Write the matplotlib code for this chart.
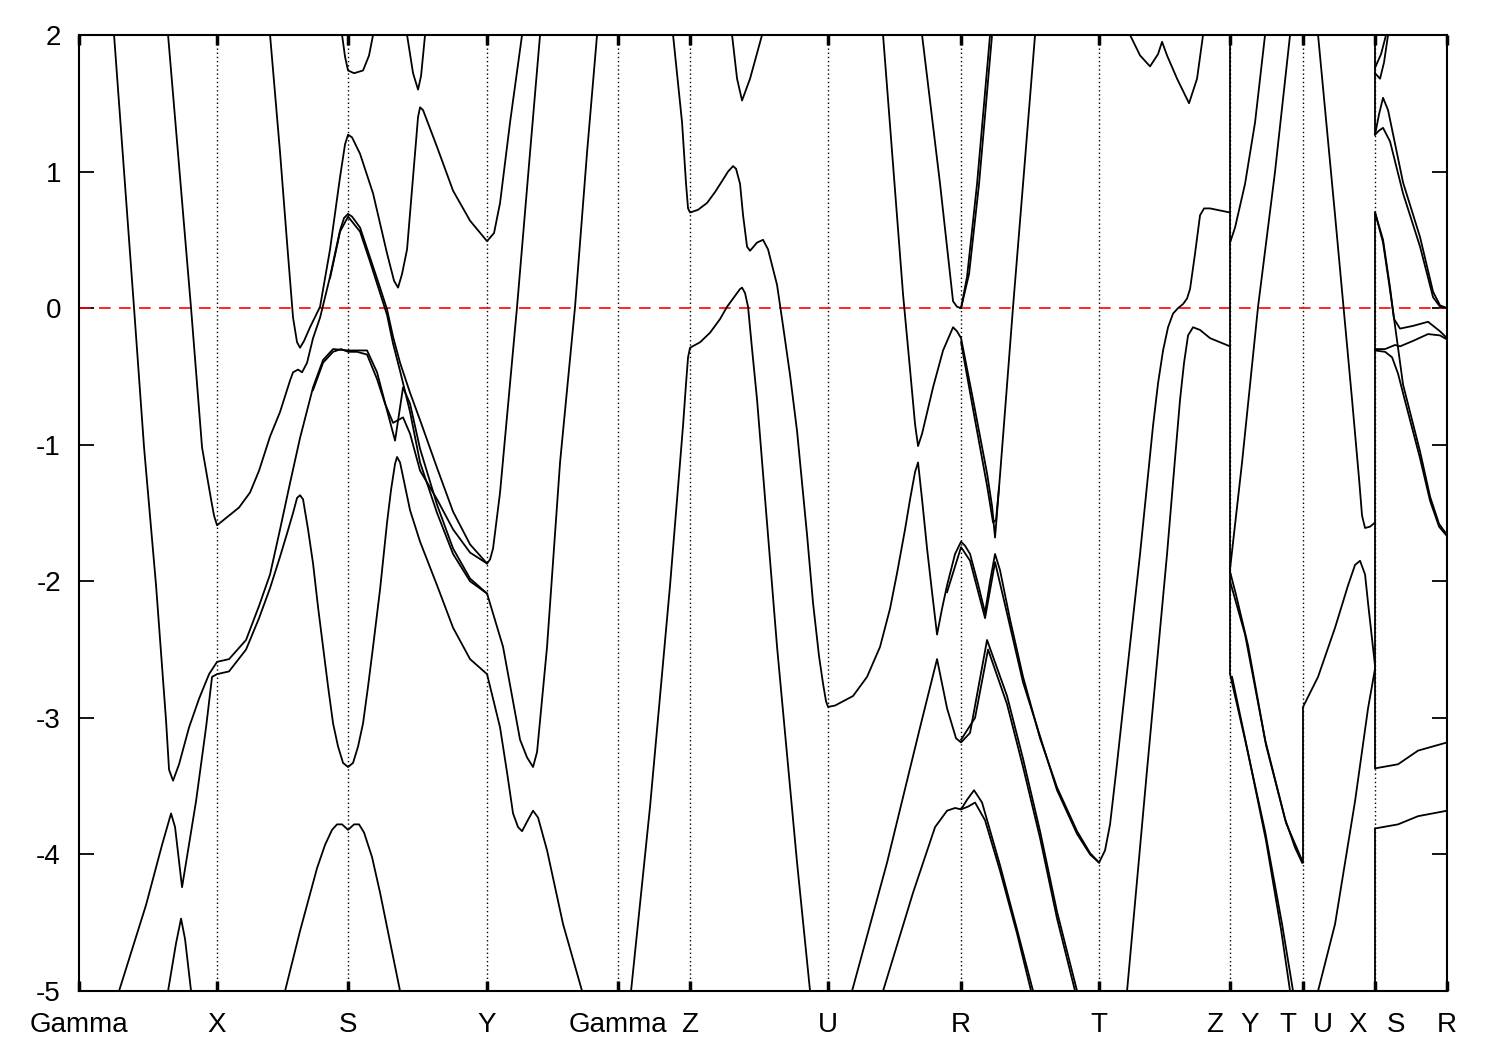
import matplotlib
matplotlib.use('Agg')
import matplotlib.pyplot as plt
from matplotlib.transforms import blended_transform_factory

plt.rcParams['font.family'] = ['Liberation Sans', 'DejaVu Sans']

# high-symmetry points along the k-path
tick_k = [0.0, 1.38, 2.69, 4.08, 5.39, 6.11, 7.49, 8.82, 10.20, 11.51, 12.24, 12.96, 13.68]
label_text = ['Gamma', 'X', 'S', 'Y', 'Gamma', 'Z', 'U', 'R', 'T', 'Z', 'Y', 'T', 'U', 'X', 'S', 'R']
label_k = [0.0, 1.38, 2.69, 4.08, 5.39, 6.11, 7.49, 8.82, 10.20, 11.36, 11.71, 12.09, 12.44, 12.79, 13.17, 13.68]

# band pieces: k distance and energy (eV)
band01_k = [0.35, 0.55, 0.65, 0.77, 0.87, 0.90, 0.94, 1.00, 1.10, 1.20, 1.30, 1.38,
            1.50, 1.67, 1.80, 1.91, 2.01, 2.11, 2.21, 2.34, 2.44, 2.54, 2.69,
            2.88, 2.98, 3.08, 3.16, 3.24, 3.31, 3.41, 3.58, 3.74, 3.91, 4.08,
            4.24, 4.41, 4.48, 4.54, 4.58, 4.61, 4.68, 4.81, 4.96, 5.08, 5.18]
band01_e = [2.0, 0.0, -1.02, -2.03, -3.02, -3.38, -3.46, -3.34, -3.07, -2.86, -2.68, -2.59,
            -2.57, -2.43, -2.18, -1.95, -1.62, -1.28, -0.95, -0.58, -0.38, -0.30, -0.31,
            -0.31, -0.47, -0.75, -0.97, -0.58, -0.70, -1.03, -1.44, -1.76, -1.98, -2.09,
            -2.48, -3.16, -3.29, -3.36, -3.25, -3.02, -2.48, -1.13, 0.01, 1.14, 2.0]

band02_k = [2.34, 2.44, 2.54, 2.62, 2.69, 2.78, 2.88, 2.98, 3.06, 3.14, 3.24, 3.31, 3.41, 3.58, 3.74, 3.91, 4.08]
band02_e = [-0.60, -0.40, -0.32, -0.30, -0.32, -0.32, -0.34, -0.52, -0.70, -0.84, -0.80, -0.92, -1.19, -1.40, -1.62, -1.79, -1.87]

band03_k = [0.89, 1.12, 1.23, 1.32, 1.35, 1.38,
            1.60, 1.71, 1.80, 1.91, 2.01, 2.11, 2.14, 2.19, 2.23, 2.28, 2.34, 2.41, 2.51, 2.61, 2.65, 2.69, 2.73,
            2.81, 2.91, 3.01, 3.08, 3.14, 3.21, 3.31, 3.41, 3.58, 3.74, 3.91, 4.08,
            4.11, 4.14, 4.21, 4.38, 4.51, 4.61]
band03_e = [2.0, 0.0, -1.02, -1.40, -1.52, -1.59,
            -1.46, -1.35, -1.19, -0.94, -0.76, -0.53, -0.47, -0.45, -0.47, -0.40, -0.22, -0.07, 0.23, 0.57, 0.66, 0.69, 0.67,
            0.59, 0.37, 0.15, -0.01, -0.21, -0.40, -0.62, -0.82, -1.17, -1.49, -1.73, -1.87,
            -1.84, -1.76, -1.35, 0.01, 1.14, 2.0]

band04_k = [1.91, 2.01, 2.08, 2.14, 2.18, 2.21, 2.25, 2.31, 2.41, 2.51, 2.61, 2.66, 2.69, 2.73, 2.81, 2.94,
            3.08, 3.15, 3.19, 3.23, 3.28, 3.34, 3.39, 3.41, 3.44, 3.58, 3.74, 3.91, 4.08, 4.15, 4.21, 4.31, 4.43]
band04_e = [2.0, 1.14, 0.48, -0.07, -0.25, -0.29, -0.24, -0.14, 0.01, 0.43, 0.96, 1.20, 1.27, 1.25, 1.13, 0.84,
            0.40, 0.20, 0.15, 0.25, 0.43, 0.96, 1.40, 1.47, 1.45, 1.18, 0.86, 0.64, 0.49, 0.55, 0.77, 1.36, 2.0]

band05_k = [0.40, 0.67, 0.83, 0.92, 0.96, 1.03, 1.17, 1.27, 1.33, 1.38,
            1.50, 1.67, 1.80, 1.91, 2.01, 2.08, 2.14, 2.18, 2.21, 2.24,
            2.29, 2.34, 2.39, 2.44, 2.49, 2.54, 2.59, 2.64, 2.69, 2.74,
            2.79, 2.84, 2.89, 2.94, 3.01, 3.08, 3.12, 3.16, 3.18, 3.21,
            3.25, 3.31, 3.41, 3.58, 3.74, 3.91, 4.08,
            4.21, 4.28, 4.34, 4.39, 4.43, 4.48, 4.54, 4.59, 4.68, 4.84, 5.03]
band05_e = [-5.0, -4.37, -3.93, -3.70, -3.80, -4.24, -3.61, -3.07, -2.70, -2.68,
            -2.66, -2.50, -2.27, -2.05, -1.82, -1.65, -1.50, -1.39, -1.37, -1.40,
            -1.62, -1.87, -2.19, -2.48, -2.77, -3.04, -3.21, -3.33, -3.36, -3.33,
            -3.21, -3.04, -2.77, -2.48, -2.06, -1.57, -1.33, -1.14, -1.09, -1.13,
            -1.27, -1.48, -1.71, -2.03, -2.34, -2.57, -2.68,
            -3.07, -3.40, -3.70, -3.80, -3.83, -3.76, -3.68, -3.73, -3.97, -4.51, -5.0]

band06_k = [2.51, 2.61, 2.69, 2.81, 2.91, 3.01, 3.08, 3.14, 3.21, 3.31, 3.41, 3.58, 3.74, 3.91, 4.08]
band06_e = [0.22, 0.56, 0.67, 0.56, 0.34, 0.11, -0.05, -0.26, -0.46, -0.76, -1.13, -1.50, -1.80, -2.00, -2.09]

band07_k = [2.06, 2.21, 2.38, 2.46, 2.53, 2.58, 2.63, 2.69, 2.75, 2.80, 2.85, 2.93, 3.01, 3.21]
band07_e = [-5.0, -4.56, -4.10, -3.93, -3.82, -3.78, -3.78, -3.82, -3.78, -3.78, -3.84, -4.02, -4.28, -5.0]

band08_k = [0.89, 0.97, 1.02, 1.06, 1.12]
band08_e = [-5.0, -4.65, -4.47, -4.62, -5.0]

band09_k = [2.63, 2.66, 2.69, 2.75, 2.84, 2.90, 2.94]
band09_e = [2.0, 1.84, 1.74, 1.72, 1.74, 1.85, 2.0]

band10_k = [3.28, 3.34, 3.39, 3.42, 3.46]
band10_e = [2.0, 1.72, 1.60, 1.70, 2.0]

band11_k = [5.52, 5.71, 5.91, 6.04, 6.07, 6.09, 6.11, 6.21, 6.31, 6.41, 6.48,
            6.56, 6.61, 6.63, 6.66, 6.69, 6.73, 6.78, 6.98, 7.18, 7.31]
band11_e = [-5.0, -3.65, -2.03, -0.86, -0.55, -0.36, -0.29, -0.25, -0.18, -0.08, 0.01,
            0.09, 0.14, 0.15, 0.11, 0.01, -0.30, -0.67, -2.48, -4.06, -5.0]

band12_k = [5.94, 6.03, 6.07, 6.09, 6.11, 6.19, 6.28, 6.36, 6.43, 6.49,
            6.54, 6.57, 6.61, 6.64, 6.68, 6.71, 6.78, 6.84, 6.89, 6.98,
            7.04, 7.11, 7.18, 7.28, 7.34, 7.40, 7.44, 7.47, 7.49,
            7.56, 7.74, 7.88, 8.01, 8.11, 8.18, 8.26, 8.31, 8.36, 8.39,
            8.43, 8.48, 8.53, 8.58, 8.63, 8.68, 8.76, 8.82, 8.86, 8.91,
            8.99, 9.06, 9.11, 9.16,
            9.21, 9.31, 9.44, 9.61, 9.78, 9.98, 10.11, 10.20,
            10.26, 10.31, 10.37, 10.44, 10.61, 10.74, 10.79, 10.84, 10.89, 10.94,
            10.99, 11.04, 11.08, 11.11, 11.16, 11.21, 11.25, 11.31, 11.51]
band12_e = [2.0, 1.36, 0.91, 0.73, 0.70, 0.72, 0.77, 0.85, 0.93, 1.00,
            1.04, 1.02, 0.91, 0.68, 0.45, 0.42, 0.48, 0.50, 0.43, 0.17,
            -0.13, -0.49, -0.90, -1.66, -2.16, -2.55, -2.75, -2.88, -2.92,
            -2.91, -2.84, -2.70, -2.48, -2.20, -1.94, -1.62, -1.40, -1.20, -1.13,
            -1.40, -1.76, -2.08, -2.39, -2.20, -2.03, -1.80, -1.71, -1.74, -1.80,
            -2.02, -2.23, -2.00, -1.80,
            -1.92, -2.28, -2.70, -3.15, -3.51, -3.83, -3.99, -4.06,
            -3.97, -3.78, -3.40, -2.93, -1.80, -0.86, -0.55, -0.31, -0.14, -0.04,
            0.0, 0.03, 0.07, 0.14, 0.40, 0.68, 0.73, 0.73, 0.70]

band13_k = [8.68, 8.82, 8.91, 9.06, 9.16, 9.31, 9.44, 9.78, 9.98, 10.11, 10.20]
band13_e = [-2.08, -1.75, -1.85, -2.27, -1.86, -2.33, -2.74, -3.53, -3.85, -4.00, -4.06]

band14_k = [8.04, 8.24, 8.31, 8.36, 8.39, 8.43, 8.54, 8.64, 8.74, 8.78,
            8.82, 8.94, 9.08, 9.13, 9.16, 9.21, 9.26, 9.34, 9.44, 9.56]
band14_e = [2.0, 0.10, -0.45, -0.85, -1.01, -0.92, -0.58, -0.31, -0.14, -0.17,
            -0.22, -0.67, -1.21, -1.45, -1.68, -1.22, -0.75, 0.01, 0.91, 2.0]

band15_k = [8.82, 8.94, 9.08, 9.14, 9.17, 9.20]
band15_e = [-0.25, -0.74, -1.30, -1.57, -1.55, -1.31]

band16_k = [8.43, 8.61, 8.74, 8.78, 8.82, 8.88, 8.98, 9.11]
band16_e = [2.0, 0.91, 0.05, 0.01, 0.0, 0.23, 0.91, 2.0]

band17_k = [8.82, 8.90, 9.00, 9.13]
band17_e = [0.0, 0.25, 0.91, 2.0]

band18_k = [7.73, 8.08, 8.41, 8.58, 8.68, 8.77, 8.82, 8.91, 9.08, 9.28, 9.44, 9.61, 9.78, 9.98]
band18_e = [-5.0, -4.06, -3.07, -2.57, -2.93, -3.15, -3.18, -3.11, -2.43, -2.84, -3.30, -3.83, -4.42, -5.0]

band19_k = [8.82, 8.96, 9.09, 9.28, 9.44, 9.61, 9.78, 9.96]
band19_e = [-3.16, -3.00, -2.50, -2.90, -3.36, -3.88, -4.47, -5.0]

band20_k = [8.04, 8.34, 8.56, 8.68, 8.76, 8.82, 8.88, 8.95, 9.03, 9.21, 9.38, 9.54]
band20_e = [-5.0, -4.28, -3.80, -3.68, -3.66, -3.67, -3.60, -3.53, -3.62, -4.08, -4.55, -5.0]

band21_k = [8.82, 8.89, 8.96, 9.06, 9.21, 9.38, 9.52]
band21_e = [-3.67, -3.65, -3.62, -3.75, -4.12, -4.58, -5.0]

band22_k = [6.53, 6.58, 6.63, 6.71, 6.83]
band22_e = [2.0, 1.68, 1.52, 1.68, 2.0]

band23_k = [10.48, 10.68, 10.88, 10.96, 11.01, 11.05, 11.09, 11.14, 11.21, 11.31, 11.51]
band23_e = [-5.0, -3.38, -1.80, -1.10, -0.67, -0.40, -0.20, -0.14, -0.16, -0.22, -0.28]

band24_k = [10.51, 10.61, 10.71, 10.79, 10.83, 10.88, 10.98, 11.10, 11.18, 11.24]
band24_e = [2.0, 1.85, 1.77, 1.86, 1.95, 1.85, 1.68, 1.50, 1.68, 2.0]

band25_k = [11.51, 11.56, 11.66, 11.76, 11.86]
band25_e = [0.48, 0.59, 0.91, 1.36, 2.0]

band26_k = [11.51, 11.63, 11.79, 11.96, 12.11]
band26_e = [-1.91, -1.13, 0.01, 1.0, 2.0]

band28_k = [11.51, 11.66, 11.86, 12.06, 12.16, 12.23]
band28_e = [-2.0, -2.39, -3.16, -3.74, -3.95, -4.06]

band29_k = [11.51, 11.57, 11.69, 11.87, 12.07, 12.24]
band29_e = [-1.93, -2.10, -2.47, -3.20, -3.77, -4.06]

band30_k = [11.51, 11.66, 11.86, 12.03, 12.14]
band30_e = [-2.68, -3.16, -3.83, -4.51, -5.0]

band31_k = [11.53, 11.68, 11.87, 12.02, 12.11]
band31_e = [-2.70, -3.22, -3.90, -4.55, -5.0]

band32_k = [12.24, 12.39, 12.56, 12.69, 12.76, 12.81, 12.86, 12.89, 12.96]
band32_e = [-2.92, -2.70, -2.34, -2.03, -1.88, -1.85, -1.95, -2.16, -2.62]

band33_k = [12.39, 12.56, 12.76, 12.89, 12.96]
band33_e = [-5.0, -4.51, -3.61, -2.93, -2.64]

band34_k = [12.39, 12.56, 12.73, 12.80, 12.83, 12.86, 12.91, 12.96]
band34_e = [2.0, 0.68, -0.67, -1.25, -1.52, -1.61, -1.60, -1.57]

band35_k = [12.96, 13.02, 13.07]
band35_e = [1.76, 1.86, 2.0]

band36_k = [12.96, 13.01, 13.05, 13.09]
band36_e = [1.72, 1.68, 1.80, 2.0]

band37_k = [12.96, 13.00, 13.04, 13.09, 13.24, 13.41, 13.54, 13.61, 13.68]
band37_e = [1.27, 1.42, 1.54, 1.45, 0.92, 0.52, 0.12, 0.02, 0.0]

band38_k = [12.96, 13.00, 13.04, 13.11, 13.24, 13.41, 13.54, 13.61, 13.68]
band38_e = [1.27, 1.30, 1.32, 1.22, 0.84, 0.45, 0.08, 0.01, 0.0]

band39_k = [12.96, 13.04, 13.11, 13.15, 13.21, 13.34, 13.49, 13.61, 13.68]
band39_e = [0.70, 0.50, 0.15, -0.08, -0.15, -0.13, -0.10, -0.17, -0.22]

band40_k = [12.96, 13.06, 13.16, 13.21, 13.34, 13.49, 13.61, 13.68]
band40_e = [-0.30, -0.30, -0.27, -0.28, -0.24, -0.19, -0.20, -0.23]

band41_k = [12.96, 13.04, 13.11, 13.16, 13.24, 13.41, 13.51, 13.60, 13.68]
band41_e = [0.70, 0.48, 0.13, -0.13, -0.56, -1.05, -1.38, -1.58, -1.66]

band42_k = [12.96, 13.06, 13.13, 13.19, 13.26, 13.41, 13.51, 13.60, 13.68]
band42_e = [-0.31, -0.32, -0.36, -0.48, -0.68, -1.10, -1.41, -1.60, -1.67]

band43_k = [12.96, 13.19, 13.39, 13.68]
band43_e = [-3.37, -3.34, -3.24, -3.18]

band44_k = [12.96, 13.19, 13.39, 13.68]
band44_e = [-3.81, -3.78, -3.72, -3.68]

# band jumps drawn at the discontinuous path points
jump_k = [11.51, 12.24, 12.96, 12.96, 12.96]
jump_lo = [-2.68, -4.06, 1.27, -3.37, -5.0]
jump_hi = [2.0, -2.92, 2.0, 0.70, -3.81]

bands = [
    (band01_k, band01_e), (band02_k, band02_e), (band03_k, band03_e), (band04_k, band04_e),
    (band05_k, band05_e), (band06_k, band06_e), (band07_k, band07_e), (band08_k, band08_e),
    (band09_k, band09_e), (band10_k, band10_e), (band11_k, band11_e), (band12_k, band12_e),
    (band13_k, band13_e), (band14_k, band14_e), (band15_k, band15_e), (band16_k, band16_e),
    (band17_k, band17_e), (band18_k, band18_e), (band19_k, band19_e), (band20_k, band20_e),
    (band21_k, band21_e), (band22_k, band22_e), (band23_k, band23_e), (band24_k, band24_e),
    (band25_k, band25_e), (band26_k, band26_e), (band28_k, band28_e), (band29_k, band29_e),
    (band30_k, band30_e), (band31_k, band31_e), (band32_k, band32_e), (band33_k, band33_e),
    (band34_k, band34_e), (band35_k, band35_e), (band36_k, band36_e), (band37_k, band37_e),
    (band38_k, band38_e), (band39_k, band39_e), (band40_k, band40_e), (band41_k, band41_e),
    (band42_k, band42_e), (band43_k, band43_e), (band44_k, band44_e),
]

fig = plt.figure(figsize=(15, 10.5), dpi=100)
ax = fig.add_axes([0.0527, 0.0562, 0.912, 0.9105])

ax.vlines(tick_k[1:-1], -5, 2, colors='black', linestyles=(0, (1, 2)), linewidth=1.0, zorder=1)
ax.axhline(0, color='red', linewidth=1.2, dashes=(7, 5), zorder=2)

for k, e in bands:
    ax.plot(k, e, color='black', linewidth=1.3, solid_joinstyle='round', zorder=3)

ax.vlines(jump_k, jump_lo, jump_hi, colors='black', linewidth=1.3, zorder=3)

ax.set_xlim(tick_k[0], tick_k[-1])
ax.set_ylim(-5, 2)

ax.set_yticks(range(-5, 3))
ax.set_yticklabels([str(v) for v in range(-5, 3)])
ax.set_xticks(tick_k)
ax.set_xticklabels([])

ax.tick_params(axis='y', direction='in', length=11, width=1.3, right=True, labelsize=20, pad=13)
ax.tick_params(axis='x', direction='in', length=7, width=2.5, top=True)
for sp in ax.spines.values():
    sp.set_linewidth(1.5)

trans = blended_transform_factory(ax.transData, ax.transAxes)
for txt, k in zip(label_text, label_k):
    ax.text(k, -0.043, txt, transform=trans, ha='center', va='baseline', fontsize=20, clip_on=False)

fig.savefig('out.png', dpi=100)
